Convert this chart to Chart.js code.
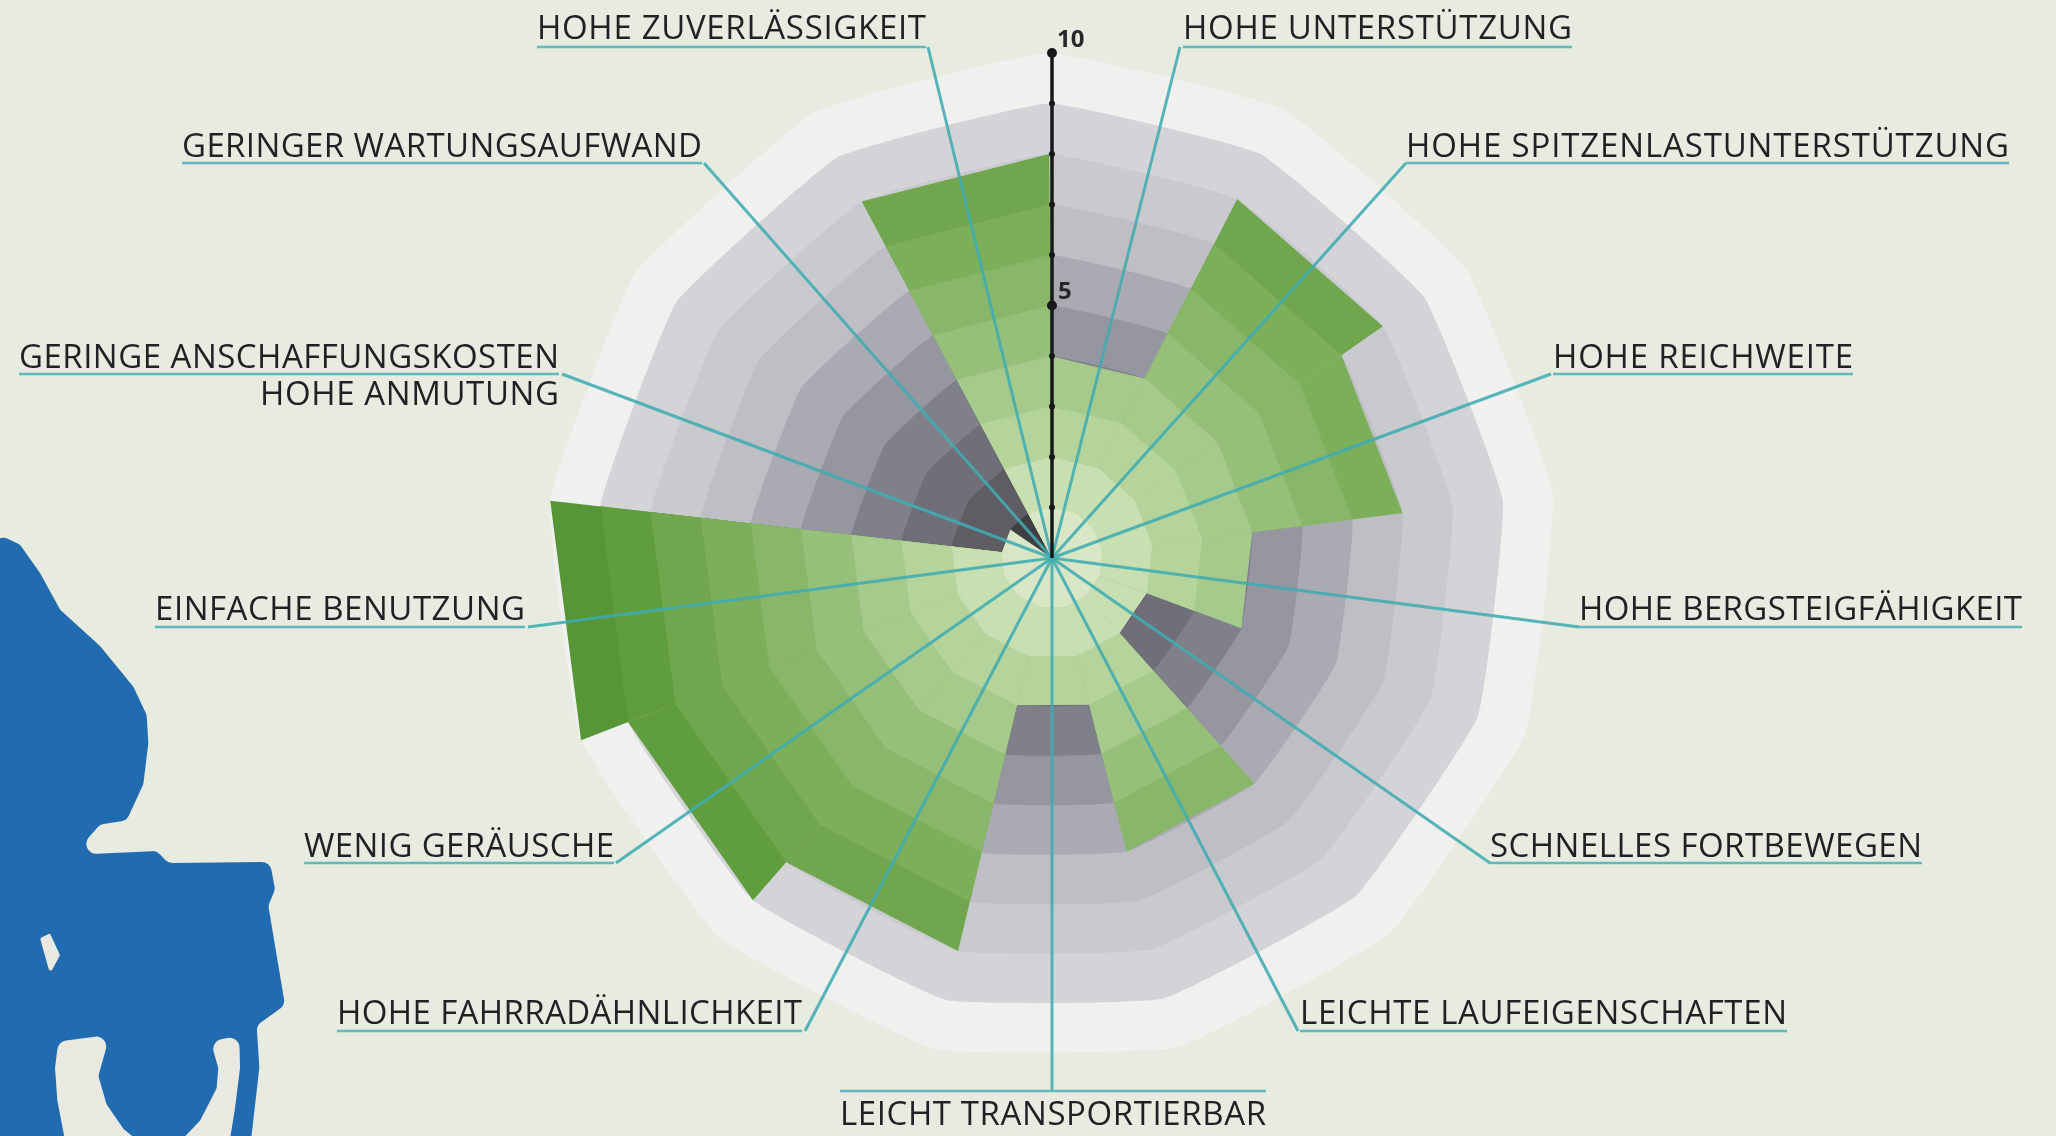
<!DOCTYPE html>
<html><head><meta charset="utf-8">
<style>html,body{margin:0;padding:0;background:#e7ebe0;width:2056px;height:1136px;overflow:hidden}canvas{display:block}</style>
<script src="https://cdn.jsdelivr.net/npm/chart.js@4"></script>
</head><body>
<canvas id="c" width="2056" height="1136" style="width:2056px;height:1136px"></canvas>
<script>
const categories = ["HOHE UNTERSTÜTZUNG","HOHE SPITZENLASTUNTERSTÜTZUNG","HOHE REICHWEITE","HOHE BERGSTEIGFÄHIGKEIT","SCHNELLES FORTBEWEGEN","LEICHTE LAUFEIGENSCHAFTEN","LEICHT TRANSPORTIERBAR","HOHE FAHRRADÄHNLICHKEIT","WENIG GERÄUSCHE","EINFACHE BENUTZUNG","GERINGE ANSCHAFFUNGSKOSTEN","GERINGER WARTUNGSAUFWAND","HOHE ZUVERLÄSSIGKEIT"];
const ratings = [4,8,7,4,2,6,3,8,9,10,1,0,8];
const levels = [1,2,3,4,5,6,7,8,9,10];
const tickLabels = [5,10];
const greens = ["#d9e7c6","#c8dfb1","#b4d49b","#a5ca8c","#96c07a","#88b769","#7caf5a","#70a64e","#5f9d3e","#569637"];
const grays = ["#413f44","#5f5c64","#706e78","#80808a","#9696a0","#aaaab2","#bebec4","#c8cace","#d4d4d8","#f0f0ee"];
const TEAL = "rgba(64,172,178,0.88)";
const UNDER = "#62b9ba";

// label layout: text, x0, x1, underline y, baseline y, elbow x
const layout = [
 ["HOHE UNTERSTÜTZUNG",1183,1572,47,39,1180],
 ["HOHE SPITZENLASTUNTERSTÜTZUNG",1406,2009,163,157,1406],
 ["HOHE REICHWEITE",1553,1853,374,368,1551],
 ["HOHE BERGSTEIGFÄHIGKEIT",1579,2022,627,620,1579],
 ["SCHNELLES FORTBEWEGEN",1490,1922,863,857,1490],
 ["LEICHTE LAUFEIGENSCHAFTEN",1300,1787,1031,1024,1298],
 ["LEICHT TRANSPORTIERBAR",840,1266,1091,1125,1052],
 ["HOHE FAHRRADÄHNLICHKEIT",337,802,1031,1024,805],
 ["WENIG GERÄUSCHE",304,614,863,857,616],
 ["EINFACHE BENUTZUNG",155,525,627,620,528],
 ["GERINGE ANSCHAFFUNGSKOSTEN",19,559,374,368,562],
 ["GERINGER WARTUNGSAUFWAND",182,702,163,157,704],
 ["HOHE ZUVERLÄSSIGKEIT",537,926,47,39,928]
];
const extraLabel = ["HOHE ANMUTUNG",260,559,405];

// decorative silhouette (crop coordinates: full x = x/3, full y = 500 + y/2.465)
const blobOutline = [[-20,78],[60,110],[120,180],[180,270],[300,360],[400,460],[440,530],[445,600],[430,700],[380,790],[300,800],[220,875],[470,865],[505,895],[810,892],[825,960],[805,1000],[855,1245],[770,1295],[778,1400],[750,1600],[-20,1600]];
const blobArc = [[175,1335],[330,1318],[295,1420],[320,1490],[370,1550],[430,1590],[530,1590],[600,1530],[650,1450],[655,1400],[632,1335],[718,1320],[720,1400],[705,1500],[685,1600],[200,1600],[172,1480],[165,1400]];
const blobHole = [[120,1080],[150,1068],[180,1122],[150,1168]];

function wedge(i,v){const a=new Array(categories.length).fill(0);a[i]=v;a[(i+1)%categories.length]=v;return a;}
const datasets=[];
const base={borderWidth:0,pointRadius:0,fill:true,tension:0};
levels.forEach((L,li)=>{ratings.forEach((v,i)=>{
  if(v>L-1 && v>0) datasets.push({...base,data:wedge(i,Math.min(v,L)),backgroundColor:greens[li],borderColor:greens[li]});
});});
levels.forEach((L,li)=>{datasets.push({...base,tension:0.1,data:categories.map(()=>L),backgroundColor:grays[li],borderColor:grays[li]});});

function smooth(c,pts,r){const P=pts.map(p=>[p[0]/3,500+p[1]/2.465]);const n=P.length;
  const m0=[(P[n-1][0]+P[0][0])/2,(P[n-1][1]+P[0][1])/2];c.beginPath();c.moveTo(m0[0],m0[1]);
  for(let i=0;i<n;i++){const a=P[i],b=P[(i+1)%n];c.arcTo(a[0],a[1],(a[0]+b[0])/2,(a[1]+b[1])/2,r);}
  c.closePath();c.fill();}

const backdrop={id:'backdrop',beforeDraw(ch){const c=ch.ctx;c.save();
  c.fillStyle="#e7ebe0";c.fillRect(0,0,2056,1136);
  c.fillStyle="#216bb0";smooth(c,blobOutline,10);
  c.fillStyle="#e9e9e2";smooth(c,blobArc,10);smooth(c,blobHole,2);
  c.restore();}};

const overlay={id:'overlay',afterDatasetsDraw(ch){const c=ch.ctx,s=ch.scales.r,cx=s.xCenter,cy=s.yCenter;c.save();
  c.lineJoin="miter";
  layout.forEach(l=>{
    c.strokeStyle=TEAL;c.lineWidth=3;c.beginPath();c.moveTo(cx,cy);c.lineTo(l[5],l[3]);c.stroke();
    c.strokeStyle=UNDER;c.lineWidth=2.5;c.beginPath();c.moveTo(l[1],l[3]);c.lineTo(l[2],l[3]);c.stroke();
  });
  const top=cy-s.getDistanceFromCenterForValue(10);
  c.strokeStyle="#17181a";c.lineWidth=3.5;c.beginPath();c.moveTo(cx,cy);c.lineTo(cx,top);c.stroke();
  c.fillStyle="#17181a";
  levels.forEach(L=>{const y=cy-s.getDistanceFromCenterForValue(L);c.beginPath();c.arc(cx,y,tickLabels.includes(L)?5:3,0,7);c.fill();});
  c.font="bold 24px 'Open Sans'";c.textAlign="left";c.textBaseline="alphabetic";c.fillStyle="#26282a";
  tickLabels.forEach(L=>{const y=cy-s.getDistanceFromCenterForValue(L);c.fillText(String(L),cx+(L===10?5:6),y-(L===10?6:7));});
  c.fillStyle="#1f2124";c.font="500 33px 'Open Sans'";
  const put=(t,x0,x1,y)=>{c.letterSpacing="0px";const m=c.measureText(t).width;c.letterSpacing=((x1-x0-m)/(t.length-1)).toFixed(3)+"px";c.fillText(t,x0,y);};
  layout.forEach(l=>put(l[0],l[1],l[2],l[4]));
  put(extraLabel[0],extraLabel[1],extraLabel[2],extraLabel[3]);
  c.restore();}};

new Chart(document.getElementById('c'),{type:'radar',
 data:{labels:categories,datasets},
 plugins:[backdrop,overlay],
 options:{responsive:false,animation:false,devicePixelRatio:1,
  layout:{padding:{left:547,top:53,right:499,bottom:73}},
  plugins:{legend:{display:false},tooltip:{enabled:false},title:{display:false}},
  scales:{r:{min:0,max:10,startAngle:-0.4,ticks:{display:false,stepSize:1},grid:{display:false},angleLines:{display:false},pointLabels:{display:false}}}
 }});
</script>
</body></html>
